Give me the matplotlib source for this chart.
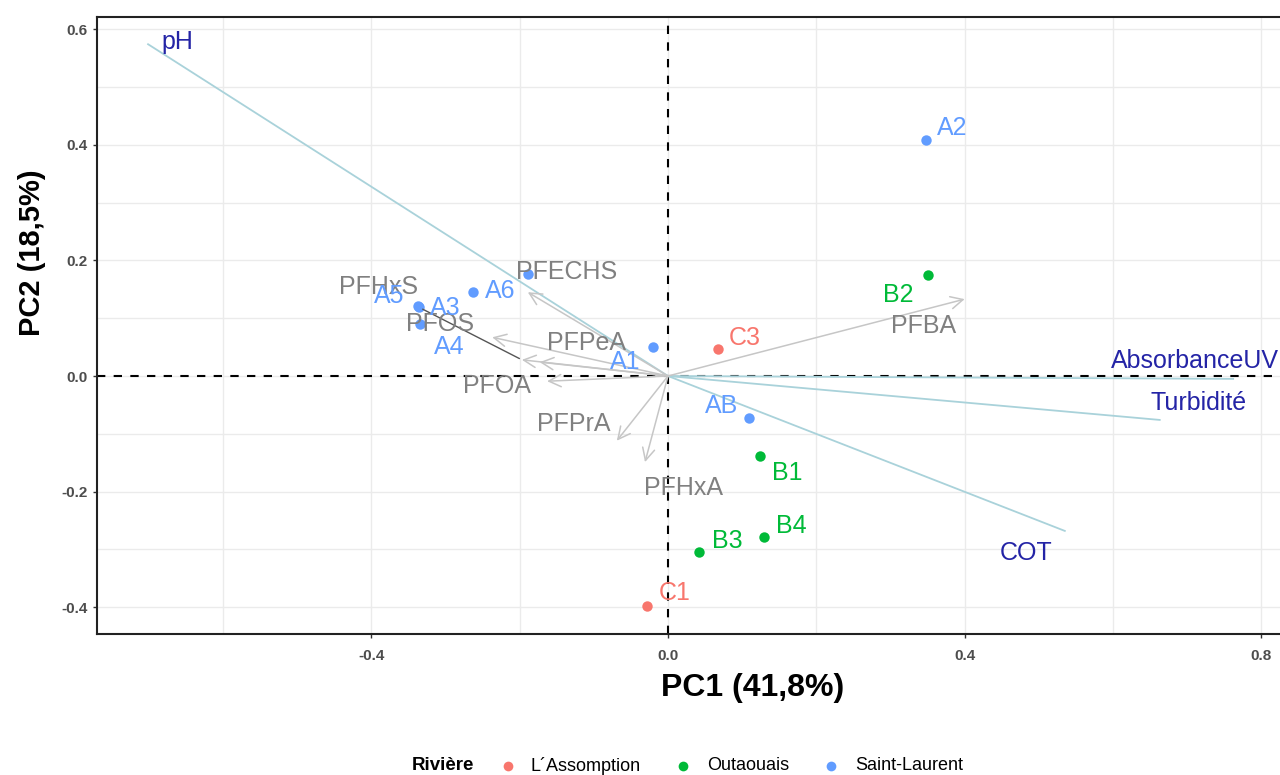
import matplotlib
matplotlib.use("Agg")
import matplotlib.pyplot as plt
from matplotlib.ticker import MultipleLocator
from matplotlib.lines import Line2D

plt.rcParams['font.family'] = ['Liberation Sans', 'DejaVu Sans']

# ---- data ----
sample_names = ['A1', 'A2', 'A3', 'A4', 'A5', 'A6', 'AB', '', 'B1', 'B2', 'B3', 'B4', 'C1', 'C3']
sample_river = ['Saint-Laurent'] * 8 + ['Outaouais'] * 4 + ["L´Assomption"] * 2
sample_pc1 = [-0.020, 0.348, -0.336, -0.334, -0.337, -0.263, 0.109, -0.189, 0.124, 0.351, 0.042, 0.129, -0.028, 0.067]
sample_pc2 = [0.050, 0.408, 0.119, 0.090, 0.121, 0.145, -0.073, 0.176, -0.138, 0.175, -0.304, -0.279, -0.398, 0.047]

pfas_names = ['PFBA', 'PFECHS', 'PFHxS', 'PFOS', 'PFPeA', 'PFOA', 'PFPrA', 'PFHxA']
pfas_pc1 = [0.400, -0.189, -0.197, -0.237, -0.173, -0.163, -0.069, -0.031]
pfas_pc2 = [0.133, 0.145, 0.028, 0.067, 0.024, -0.009, -0.112, -0.149]

env_names = ['pH', 'AbsorbanceUV', 'Turbidité', 'COT']
env_pc1 = [-0.701, 0.762, 0.663, 0.535]
env_pc2 = [0.574, -0.005, -0.076, -0.268]

rivers = ["L´Assomption", 'Outaouais', 'Saint-Laurent']
river_colors = ['#F8766D', '#00BA38', '#619CFF']

# ---- label offsets (pixels) ----
sample_off = {'A1': (-28, -15), 'A2': (26, 12), 'A3': (26, -1), 'A4': (29, -23),
              'A5': (-29, 10), 'A6': (27, 1), 'AB': (-27, 12), 'B1': (27, -17),
              'B2': (-30, -20), 'B3': (28, 11), 'B4': (28, 11), 'C1': (27, 13), 'C3': (27, 11)}
pfas_off = {'PFBA': (-41, -27), 'PFECHS': (39, 20), 'PFHxS': (-143, 73), 'PFOS': (-52, 13),
            'PFPeA': (47, 19), 'PFOA': (-50, -5), 'PFPrA': (-43, 17), 'PFHxA': (38, -26)}
env_off = {'pH': (29, 2), 'AbsorbanceUV': (-38, 18), 'Turbidité': (39, 17), 'COT': (-39, -22)}

W, H = 1280, 775
fig = plt.figure(figsize=(W / 100, H / 100), dpi=100)
ax = fig.add_axes([97 / W, (H - 634) / H, (1295 - 97) / W, (634 - 17) / H])

x0 = (97 - 668) / 741.7
x1 = (1295 - 668) / 741.7
y1 = (376 - 17) / 578.0
y0 = (376 - 634) / 578.0
ax.set_xlim(x0, x1)
ax.set_ylim(y0, y1)

ax.xaxis.set_major_locator(MultipleLocator(0.4))
ax.xaxis.set_minor_locator(MultipleLocator(0.2))
ax.yaxis.set_major_locator(MultipleLocator(0.2))
ax.yaxis.set_minor_locator(MultipleLocator(0.1))
ax.xaxis.set_major_formatter(matplotlib.ticker.FormatStrFormatter('%.1f'))
ax.yaxis.set_major_formatter(matplotlib.ticker.FormatStrFormatter('%.1f'))
ax.grid(True, which='both', color='#EBEBEB', linewidth=1.0, zorder=0)
ax.set_axisbelow(True)
ax.tick_params(which='major', length=3, width=1, color='#333333', labelsize=11,
               labelcolor='#4D4D4D')
ax.tick_params(axis='x', pad=8)
ax.tick_params(axis='y', pad=4)
ax.tick_params(which='minor', length=0)
for lab in ax.get_xticklabels() + ax.get_yticklabels():
    lab.set_fontweight('bold')
for s in ax.spines.values():
    s.set_color('#222222')
    s.set_linewidth(1.5)

ax.axhline(0, color='black', linestyle=(0, (4, 4)), linewidth=1.5, zorder=2)
ax.axvline(0, color='black', linestyle=(0, (4, 4)), linewidth=1.5, zorder=2)

# environmental variable lines
for n, px, py in zip(env_names, env_pc1, env_pc2):
    ax.plot([0, px], [0, py], color='#A9D2DA', linewidth=1.3, zorder=3)
    dx, dy = env_off[n]
    ax.annotate(n, (px, py), xytext=(dx, dy), textcoords='offset pixels',
                ha='center', va='center', fontsize=18, color='#2424A6', zorder=6,
                annotation_clip=False)

# PFAS arrows
for n, px, py in zip(pfas_names, pfas_pc1, pfas_pc2):
    ax.annotate('', xy=(px, py), xytext=(0, 0),
                arrowprops=dict(arrowstyle='->', color='#C6C6C6', lw=1.1,
                                mutation_scale=22, shrinkA=0, shrinkB=0), zorder=3)
    dx, dy = pfas_off[n]
    if n == 'PFHxS':
        ax.annotate(n, (px, py), xytext=(dx, dy), textcoords='offset pixels',
                    ha='center', va='center', fontsize=18, color='#808080', zorder=5,
                    arrowprops=dict(arrowstyle='-', color='#555555', lw=1.0,
                                    shrinkA=12, shrinkB=2))
    else:
        ax.annotate(n, (px, py), xytext=(dx, dy), textcoords='offset pixels',
                    ha='center', va='center', fontsize=18, color='#808080', zorder=5)

# samples
cmap = dict(zip(rivers, river_colors))
for n, r, px, py in zip(sample_names, sample_river, sample_pc1, sample_pc2):
    ax.plot(px, py, 'o', color=cmap[r], markersize=7.5, markeredgewidth=0, zorder=4)
    if n:
        dx, dy = sample_off[n]
        ax.annotate(n, (px, py), xytext=(dx, dy), textcoords='offset pixels',
                    ha='center', va='center', fontsize=18, color=cmap[r], zorder=5)

# axis titles
fig.text(753 / W, 1 - 688 / H, 'PC1 (41,8%)', ha='center', va='center',
         fontsize=23, fontweight='bold', color='black')
fig.text(32 / W, 1 - 253 / H, 'PC2 (18,5%)', ha='center', va='center',
         fontsize=21, fontweight='bold', color='black', rotation=90)

# legend
ly = 1 - 766 / H
fig.text(412 / W, ly, 'Rivière', ha='left', va='center', fontsize=13.5, fontweight='bold')
mark_x = [508, 683, 831]
text_x = [530, 707, 855]
for r, c, mx, tx in zip(rivers, river_colors, mark_x, text_x):
    fig.add_artist(Line2D([mx / W], [ly], marker='o', color=c, markersize=7,
                          markeredgewidth=0, linestyle='none'))
    fig.text(tx / W, ly, r, ha='left', va='center', fontsize=13, color='black')

fig.savefig('out.png', dpi=100)
